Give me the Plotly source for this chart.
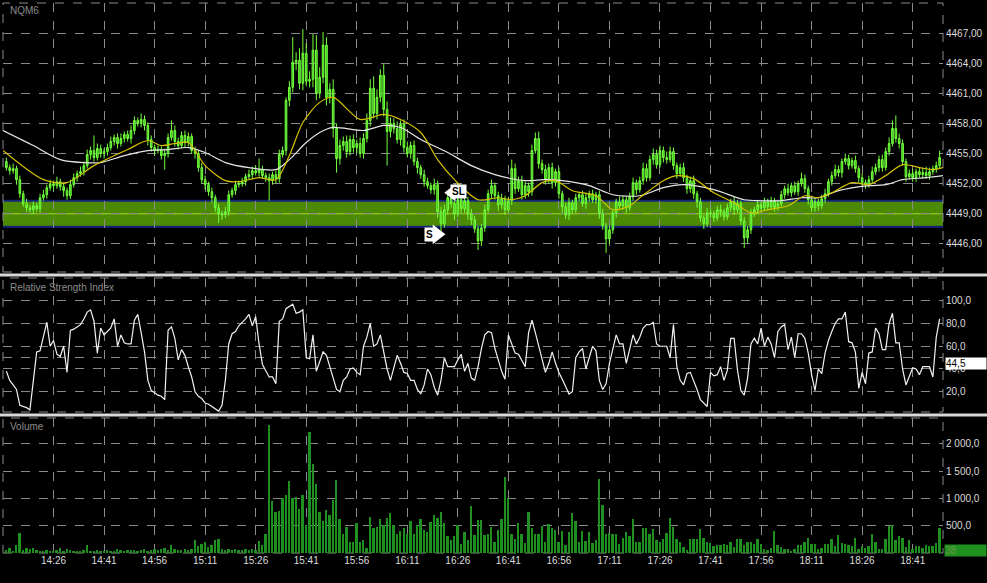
import plotly.graph_objects as go
from plotly.subplots import make_subplots

# ---------------- data ----------------
minutes = list(range(12, 290))  # minutes after 14:00

closes = [
4453.6, 4453.3, 4453.5, 4452.4, 4451.0, 4450.0, 4449.6, 4449.4, 4449.8, 4449.5,
4450.6, 4450.9, 4451.6, 4452.0, 4451.8, 4452.2, 4451.7, 4451.3, 4450.8, 4451.9,
4452.6, 4453.0, 4453.2, 4453.8, 4454.9, 4455.3, 4454.6, 4455.5, 4455.0, 4455.2,
4455.6, 4456.2, 4456.6, 4456.0, 4456.5, 4456.9, 4456.5, 4457.3, 4458.3, 4458.0,
4458.4, 4457.8, 4456.4, 4455.6, 4455.3, 4455.4, 4454.8, 4455.0, 4456.6, 4457.3,
4456.2, 4455.8, 4456.8, 4456.1, 4456.7, 4455.3, 4455.0, 4453.6, 4452.4, 4451.9,
4451.2, 4450.6, 4449.6, 4449.0, 4448.9, 4449.2, 4450.9, 4451.3, 4451.9, 4452.0,
4452.2, 4452.7, 4452.9, 4453.3, 4453.1, 4453.4, 4452.8, 4452.6, 4452.3, 4452.9,
4452.5, 4454.9, 4455.3, 4460.3, 4461.6, 4464.1, 4464.3, 4462.0, 4465.0, 4462.2,
4462.4, 4465.3, 4461.0, 4462.6, 4465.8, 4460.6, 4461.4, 4457.5, 4454.5, 4455.8,
4456.2, 4455.2, 4456.4, 4455.6, 4456.0, 4455.0, 4456.5, 4458.3, 4461.5, 4459.0,
4460.6, 4462.8, 4459.4, 4457.2, 4458.0, 4457.5, 4456.4, 4457.9, 4455.6, 4455.0,
4455.8, 4454.2, 4453.6, 4452.9, 4452.2, 4451.8, 4451.4, 4451.9, 4449.2, 4448.0,
4449.4, 4450.6, 4450.0, 4449.0, 4450.4, 4449.5, 4450.3, 4449.0, 4448.4, 4447.5,
4446.3, 4447.6, 4449.4, 4451.0, 4451.8, 4450.8, 4449.9, 4450.5, 4449.4, 4450.3,
4453.5, 4451.5, 4452.3, 4450.9, 4451.8, 4451.2, 4455.3, 4456.5, 4454.0, 4453.4,
4452.4, 4453.6, 4452.1, 4453.2, 4451.0, 4449.7, 4448.9, 4450.1, 4449.4, 4450.6,
4450.9, 4450.0, 4450.6, 4451.0, 4450.4, 4450.9, 4449.0, 4447.8, 4446.5, 4447.4,
4449.1, 4450.2, 4449.8, 4450.4, 4449.6, 4450.7, 4452.1, 4451.4, 4452.3, 4453.5,
4452.6, 4454.4, 4454.9, 4453.9, 4455.3, 4454.6, 4454.4, 4455.2, 4453.8, 4453.0,
4453.6, 4452.6, 4451.5, 4452.3, 4451.0, 4450.2, 4448.6, 4448.0, 4449.1, 4449.0,
4448.6, 4449.4, 4449.2, 4448.7, 4449.6, 4450.2, 4449.4, 4450.0, 4448.3, 4446.6,
4447.4, 4449.0, 4449.4, 4449.9, 4449.6, 4450.2, 4449.7, 4450.3, 4449.6, 4450.0,
4450.9, 4451.5, 4451.1, 4451.8, 4451.2, 4452.0, 4452.5, 4451.5, 4450.4, 4449.6,
4450.2, 4449.8, 4450.5, 4451.0, 4452.2, 4452.8, 4453.4, 4453.1, 4454.2, 4454.5,
4453.8, 4454.3, 4453.5, 4452.6, 4452.1, 4451.9, 4452.4, 4453.2, 4453.6, 4454.4,
4453.6, 4455.2, 4456.0, 4457.5, 4456.5, 4456.0, 4454.2, 4452.7, 4453.0, 4452.6,
4453.2, 4452.9, 4453.1, 4452.8, 4453.2, 4453.5, 4453.8, 4454.6]

first_open = 4454.2

wick_hi = [
.4,.3,.5,.3,.4,.3,.5,.3,.4,.3, .4,.5,.3,.4,.3,.5,.3,.4,.3,.5,
.4,.3,.5,.4,.5,.4,1.5,.5,.4,.3, .4,.5,.3,.4,.5,.3,.4,.5,.4,.3,
.6,.4,.3,.4,.3,.4,.3,.5,.4,1.0, .5,.4,.4,.5,.4,.3,.4,.3,.5,.4,
.3,.4,.3,.4,.3,.5,.4,.3,.4,.3, .4,.3,.5,.4,.5,1.1,.4,.3,.4,.3,
.4,.5,.4,.3,.6,2.5,.8,1.2,2.4,1.0, .8,1.6,1.5,1.0,1.3,.8,.6,1.0,.5,.6,
.5,.6,.4,.5,.4,.6,.5,.7,.9,1.2, .8,.6,1.1,.8,.6,.5,.7,.4,.5,.6,
.4,.5,.4,.3,.5,.4,.3,.6,.4,.5, .5,.4,.6,.3,.4,.5,.3,.4,.5,.4,
.3,.4,.5,.4,.6,.3,.4,.5,.3,.4, .9,.5,.4,.5,.4,.3,.6,.6,.7,.4,
.5,.4,.5,.3,.4,.3,.4,.5,.3,.4, .3,.4,.5,.3,.4,.3,.4,.5,.3,.4,
.4,.3,.5,.4,.3,.4,.5,.3,.4,.6, .5,.4,.6,.5,.5,.4,.6,.5,.4,.3,
.4,.5,.3,.4,.5,.3,.4,.3,.5,.4, .3,.4,.5,.3,.4,.3,.5,.4,.3,.4,
.4,.5,.3,.4,.3,.4,.3,.4,.3,.4, .4,.3,.5,.3,.4,.3,.6,.4,.3,.4,
.4,.3,.4,.5,.3,.4,.5,.4,.3,.5, .4,.3,.5,.3,.4,.3,.4,.5,.4,.4,
.5,.4,.6,.8,1.3,.5,.4,.3,.4,.5, .3,.4,.5,.6,.4,.3,.4,.7]

wick_lo = [
.3,.4,.3,.5,.4,.3,.4,.3,.4,.3, .4,.3,.4,.3,.5,.3,.4,.6,.4,.3,
.3,.4,.3,.4,.3,.5,.4,.3,.4,.5, .4,.3,.4,.5,.3,.4,.3,.5,.4,.3,
.4,.5,.6,.4,.5,.3,.4,1.4,.4,.3, .5,.4,.3,.5,.4,.3,.5,.4,.4,.5,
.4,.5,.4,.9,.5,.3,.4,.3,.4,.3, .3,.4,.3,.4,.3,.4,.3,.4,2.0,.4,
.5,.4,.3,.5,.6,.5,.8,.6,.7,.5, .6,.8,.7,.5,.6,.8,.6,.9,1.4,.6,
.5,.6,.4,.5,.6,.4,.5,.4,.6,.5, .6,.5,.7,3.4,.6,.5,.4,.6,.5,.4,
.5,.4,.6,.4,.5,.3,.4,.5,.6,.9, .4,.5,.4,.6,.3,.5,.4,.6,.5,.4,
.9,.5,.4,.3,.5,.4,.6,.4,.5,.3, .4,.5,.3,.5,.4,.5,.4,.3,.5,.4,
.5,.4,.6,.4,.5,.6,.4,.5,.4,.3, .4,.3,.5,.4,.3,.4,.5,.4,1.4,.5,
.4,.5,.3,.4,.5,.3,.4,.5,.3,.4, .4,.3,.5,.4,.3,.5,.4,.3,.4,.5,
.3,.4,.5,.4,.5,.6,.4,.5,.3,.4, .4,.3,.5,.4,.3,.4,.5,.3,.4,1.0,
.5,.4,.3,.4,.5,.3,.4,.3,.4,.3, .3,.4,.3,.4,.3,.4,.3,.4,.5,.4,
.4,.5,.3,.4,.3,.4,.3,.4,.5,.3, .4,.3,.4,.5,.3,.4,.3,.4,.3,.4,
.4,.3,.4,.3,.4,.5,.4,.5,.3,.4, .4,.3,.4,.3,.4,.3,.4,.3]

rsi = [
38, 30, 26, 22, 8, 7, 6, 4, 30, 55,
56, 68, 81, 60, 65, 53, 51, 60, 37, 74,
75, 77, 79, 84, 90, 92, 82, 54, 76, 70,
73, 76, 84, 60, 70, 63, 62, 62, 83, 88,
72, 55, 30, 21, 19, 17, 16, 13, 74, 77,
67, 48, 57, 52, 42, 33, 20, 16, 14, 10,
9, 7, 5, 3, 8, 30, 62, 71, 73, 78,
81, 84, 88, 78, 86, 62, 44, 38, 33, 33,
27, 82, 84, 93, 95, 97, 89, 90, 92, 50,
49, 70, 38, 47, 55, 52, 42,
30, 22, 20, 30, 33, 40, 41, 37, 35, 60,
68, 80, 60, 62, 70, 55, 40, 30, 40, 52,
45, 37, 36, 30, 30, 22, 18, 26, 40, 35,
24, 17, 30, 50, 42, 42, 42, 48, 53, 38,
45, 32, 30, 42, 58, 70, 73, 72, 58, 48,
38, 31, 70, 62, 54, 53, 48, 42, 72, 83,
72, 60, 48, 37, 45, 55, 45, 37, 31, 25,
18, 20, 50, 55, 58, 40, 50, 60, 56, 30,
22, 27, 45, 58, 70, 62, 62, 45, 58, 70,
62, 68, 76, 79,
79, 81, 62, 60, 60, 60, 50, 79, 42, 30,
26, 36, 37, 30, 22, 13, 10, 7, 37, 34,
35, 42, 30, 39, 67, 67, 39, 21, 17, 32,
62, 67, 62, 76, 60, 68, 62, 50, 73, 77,
79, 57, 68, 50, 71, 71, 67, 54, 35, 21,
40, 36, 54, 65, 73, 80, 84, 84, 90, 64,
63, 55, 23, 37, 27, 54, 55, 76, 71, 57,
57, 80, 89, 63, 63, 40, 26, 33, 41, 40,
35, 42, 42, 42, 33, 68, 84]

volume = [
50, 90, 40, 150, 375, 60, 90, 70, 100, 50,
40, 30, 50, 35, 45, 60, 100, 40, 70, 50,
40, 45, 30, 50, 155, 45, 40, 50, 35, 40,
55, 40, 45, 65, 50, 40, 55, 60, 50, 45,
60, 70, 45, 55, 65, 50, 70, 100, 60, 150,
80, 60, 55, 70, 60, 75, 230, 120, 170, 200,
110, 150, 230, 250, 70, 60, 70, 60, 75, 50,
60, 70, 55, 65, 60, 225, 140, 345, 2340, 960,
750, 775, 1010, 1055, 1325, 1010, 1025, 805, 1055, 510,
2220, 1640, 1260, 760, 590, 795, 700, 980, 1340, 625,
355, 480, 210, 210, 545, 200, 230, 90, 655, 450,
480, 625, 510, 650, 725, 510, 340, 400, 450, 340,
590, 355, 510, 625, 420, 390, 575, 690, 640, 750,
545, 310, 245, 310, 510, 170, 390, 230, 855, 325,
605, 605, 325, 355, 480, 210, 420, 625, 1400, 1000,
345, 260, 555, 340, 180, 750, 450, 355, 355, 500,
200, 525, 450, 420, 210, 400, 150, 390, 725, 595,
210, 400, 220, 390, 180, 230, 1350, 875, 340, 375,
355, 340, 170, 275, 390, 310, 625, 200, 200, 450,
460, 340, 440, 230, 200, 260, 375, 640, 480, 250,
210, 105, 60, 250, 260, 250, 440, 275, 210, 190,
125, 140, 150, 170, 140, 210, 105, 260, 250, 140,
210, 210, 170, 260, 170, 75, 60, 90, 400, 140,
105, 75, 75, 45, 75, 150, 150, 200, 280, 170,
170, 75, 90, 170, 170, 250, 120, 325, 180, 170,
140, 120, 275, 75, 120, 90, 125, 345, 200, 75,
75, 250, 500, 510, 230, 305, 275, 105, 230, 75,
125, 125, 90, 140, 120, 120, 190, 450]

ma_fast_t = [11, 23, 30, 38, 48, 54, 58, 62, 66, 71, 77, 81, 87, 92, 96, 100, 105, 109,
             117, 124, 129, 135, 140, 145, 152, 158, 162, 166, 171, 175, 180, 187, 192,
             197, 200, 207, 211, 216, 222, 228, 233, 238, 244, 249, 253, 257, 263, 268,
             273, 278, 283, 287, 290]
ma_fast_v = [4455.3, 4452.4, 4452.1, 4453.8, 4455.4, 4456.3, 4455.8, 4456.0, 4456.1, 4453.8,
             4452.3, 4452.2, 4452.6, 4452.4, 4454.8, 4458.1, 4460.1, 4460.6, 4458.4, 4458.9,
             4458.4, 4457.1, 4454.4, 4452.4, 4450.4, 4450.6, 4450.4, 4450.8, 4452.1, 4452.3,
             4451.3, 4450.8, 4449.4, 4449.8, 4450.6, 4452.3, 4452.8, 4452.5, 4451.1, 4450.1,
             4449.1, 4449.4, 4449.8, 4450.8, 4450.6, 4451.1, 4452.1, 4451.9, 4452.8, 4453.9,
             4453.6, 4453.4, 4453.6]

ma_slow_t = [11, 20, 28, 35, 40, 47, 54, 60, 66, 71, 77, 84, 92, 96, 101, 105, 109, 118,
             124, 129, 135, 143, 150, 157, 166, 172, 177, 185, 192, 200, 207, 213, 222,
             231, 236, 242, 248, 253, 259, 268, 273, 278, 285, 290]
ma_slow_v = [4457.3, 4455.8, 4454.4, 4454.1, 4454.1, 4454.8, 4455.3, 4455.4, 4455.6, 4455.1,
             4454.1, 4453.6, 4453.4, 4454.4, 4456.1, 4457.1, 4457.6, 4457.3, 4457.8, 4457.6,
             4456.4, 4455.1, 4453.8, 4452.9, 4452.3, 4452.4, 4452.3, 4451.8, 4450.9, 4450.8,
             4451.6, 4451.9, 4451.4, 4450.4, 4450.3, 4450.3, 4450.6, 4450.6, 4451.3, 4451.8,
             4451.9, 4452.4, 4452.6, 4452.8]

zone_low, zone_mid, zone_high = 4447.7, 4449.0, 4450.3

sig_labels = ["S", "SL"]
sig_minutes = [139.8, 144.2]
sig_prices = [4446.95, 4451.1]

time_ticks = [26, 41, 56, 71, 86, 101, 116, 131, 146, 161, 176, 191, 206, 221, 236, 251, 266, 281]
time_labels = ["14:26", "14:41", "14:56", "15:11", "15:26", "15:41", "15:56", "16:11", "16:26",
               "16:41", "16:56", "17:11", "17:26", "17:41", "17:56", "18:11", "18:26", "18:41"]
price_ticks = [4446, 4449, 4452, 4455, 4458, 4461, 4464, 4467]
price_labels = ["4446,00", "4449,00", "4452,00", "4455,00", "4458,00", "4461,00", "4464,00", "4467,00"]
rsi_ticks = [20, 40, 50, 60, 80, 100]
rsi_labels = ["20,0", "40,0", "", "60,0", "80,0", "100,0"]
vol_ticks = [0, 500, 1000, 1500, 2000]
vol_labels = ["", "500,0", "1 000,0", "1 500,0", "2 000,0"]
rsi_last_label = "44,5"
rsi_last_value = 44.5
vol_last_label = "38"
vol_last_value = 38

# ---------------- derived OHLC ----------------
opens = [first_open] + closes[:-1]
highs = [max(o, c) + w for o, c, w in zip(opens, closes, wick_hi)]
lows = [min(o, c) - w for o, c, w in zip(opens, closes, wick_lo)]

# ---------------- figure ----------------
FONT = "Liberation Sans, Arial, sans-serif"
GRID = "#8a8a8a"
TXT = "#dcdcdc"

fig = make_subplots(rows=3, cols=1, shared_xaxes=True, vertical_spacing=0.0)

fig.add_trace(go.Candlestick(
    x=minutes, open=opens, high=highs, low=lows, close=closes,
    increasing=dict(line=dict(color="#74ff3c", width=1), fillcolor="#3fbf25"),
    decreasing=dict(line=dict(color="#74ff3c", width=1), fillcolor="#3fbf25"),
    whiskerwidth=0, showlegend=False, hoverinfo="skip"), row=1, col=1)

fig.add_trace(go.Scatter(x=ma_slow_t, y=ma_slow_v, mode="lines",
                         line=dict(color="#e6e6e6", width=1.2, shape="spline", smoothing=0.8),
                         showlegend=False, hoverinfo="skip"), row=1, col=1)
fig.add_trace(go.Scatter(x=ma_fast_t, y=ma_fast_v, mode="lines",
                         line=dict(color="#d6c200", width=1.2, shape="spline", smoothing=0.8),
                         showlegend=False, hoverinfo="skip"), row=1, col=1)

# signal arrows
fig.add_trace(go.Scatter(x=[sig_minutes[0]], y=[sig_prices[0]], mode="markers",
                         marker=dict(symbol="triangle-right", size=17, color="white"),
                         showlegend=False, hoverinfo="skip"), row=1, col=1)
fig.add_trace(go.Scatter(x=[sig_minutes[1]], y=[sig_prices[1]], mode="markers",
                         marker=dict(symbol="triangle-left", size=15, color="white"),
                         showlegend=False, hoverinfo="skip"), row=1, col=1)

fig.add_trace(go.Scatter(x=minutes, y=rsi, mode="lines",
                         line=dict(color="#f2f2f2", width=1.2),
                         showlegend=False, hoverinfo="skip"), row=2, col=1)

fig.add_trace(go.Bar(x=minutes, y=volume, width=0.55,
                     marker=dict(color="#1f8f1f", line=dict(width=0)),
                     showlegend=False, hoverinfo="skip"), row=3, col=1)

fig.update_layout(
    width=987, height=583,
    margin=dict(l=3, r=44, t=3, b=30, autoexpand=False),
    paper_bgcolor="black", plot_bgcolor="black",
    font=dict(family=FONT, size=10, color=TXT),
    bargap=0,
    hovermode=False,
    yaxis=dict(domain=[0.5109, 1.0]),
    yaxis2=dict(domain=[0.2564, 0.5]),
    yaxis3=dict(domain=[0.0, 0.2455]),
)

for r in (1, 2, 3):
    fig.update_xaxes(row=r, col=1, range=[11, 290], tickvals=time_ticks, ticktext=time_labels,
                     showgrid=True, gridcolor=GRID, griddash="dash", gridwidth=1,
                     zeroline=False, showline=False, ticks="", automargin=False,
                     showticklabels=(r == 3), rangeslider=dict(visible=False),
                     tickfont=dict(size=10, color=TXT, family=FONT))

fig.update_yaxes(row=1, col=1, range=[4443.2, 4470.0], side="right", tickvals=price_ticks,
                 ticktext=price_labels)
fig.update_yaxes(row=2, col=1, range=[2.2, 120], side="right", tickvals=rsi_ticks,
                 ticktext=rsi_labels)
fig.update_yaxes(row=3, col=1, range=[0, 2475], side="right", tickvals=vol_ticks,
                 ticktext=vol_labels)
fig.update_yaxes(showgrid=True, gridcolor=GRID, griddash="dash", gridwidth=1, zeroline=False,
                 ticks="", showline=False, automargin=False, ticklabelstandoff=2,
                 tickfont=dict(size=10, color=TXT, family=FONT))

shapes = []
# support zone band
shapes.append(dict(type="rect", xref="x domain", yref="y", x0=0, x1=1, y0=zone_low, y1=zone_high,
                   fillcolor="#4c8a04", line=dict(width=0), layer="below"))
for yv in (zone_low, zone_high):
    shapes.append(dict(type="line", xref="x domain", yref="y", x0=0, x1=1, y0=yv, y1=yv,
                       line=dict(color="#14247a", width=2), layer="below"))
shapes.append(dict(type="line", xref="x domain", yref="y", x0=0, x1=1, y0=zone_mid, y1=zone_mid,
                   line=dict(color="#a8d42a", width=1), layer="below"))

# dashed panel frames
for xr, yr in (("x domain", "y domain"), ("x2 domain", "y2 domain"), ("x3 domain", "y3 domain")):
    shapes.append(dict(type="rect", xref=xr, yref=yr, x0=0, x1=1, y0=0, y1=1,
                       line=dict(color=GRID, width=1, dash="dash"), fillcolor="rgba(0,0,0,0)",
                       layer="below"))

# separators between panels
for yp in (0.5055, 0.2509):
    shapes.append(dict(type="line", xref="paper", yref="paper", x0=-0.01, x1=1.05, y0=yp, y1=yp,
                       line=dict(color="#d8d8d8", width=3)))
fig.update_layout(shapes=shapes)

ann = []
ann.append(dict(text="NQM6", xref="paper", yref="paper", x=(8 - 3) / 940, y=(553 - 11) / 550,
                xanchor="left", yanchor="middle", showarrow=False,
                font=dict(size=10, color="#8c8c8c", family=FONT)))
ann.append(dict(text="Relative Strength Index", xref="paper", yref="paper", x=(8 - 3) / 940,
                y=(553 - 287) / 550, xanchor="left", yanchor="middle", showarrow=False,
                font=dict(size=10, color="#8c8c8c", family=FONT)))
ann.append(dict(text="Volume", xref="paper", yref="paper", x=(8 - 3) / 940, y=(553 - 426) / 550,
                xanchor="left", yanchor="middle", showarrow=False,
                font=dict(size=10, color="#8c8c8c", family=FONT)))
# signal labels
ann.append(dict(text="<b>" + sig_labels[0] + "</b>", x=sig_minutes[0] - 2.1, y=sig_prices[0],
                xref="x", yref="y", showarrow=False, bgcolor="white", borderpad=1,
                font=dict(size=10, color="black", family=FONT)))
ann.append(dict(text="<b>" + sig_labels[1] + "</b>", x=sig_minutes[1] + 2.1, y=sig_prices[1] + 0.1,
                xref="x", yref="y", showarrow=False, bgcolor="white", borderpad=1,
                font=dict(size=10, color="black", family=FONT)))
# last value boxes
ann.append(dict(text=rsi_last_label, xref="paper", yref="y2", x=1.002, y=rsi_last_value,
                xanchor="left", yanchor="middle", showarrow=False, bgcolor="white",
                width=40, align="left", borderpad=0, height=11,
                font=dict(size=10, color="black", family=FONT)))
ann.append(dict(text=vol_last_label, xref="paper", yref="y3", x=1.001, y=vol_last_value,
                xanchor="left", yanchor="middle", showarrow=False, bgcolor="#1f8f1f",
                width=41, align="left", borderpad=0, height=11,
                font=dict(size=10, color="#6a9a4a", family=FONT)))
fig.update_layout(annotations=ann)

fig.write_html("out.html", config={"displayModeBar": False},
               post_script="document.body.style.margin='0';document.body.style.padding='0';"
                           "document.body.style.background='black';"
                           "document.body.style.overflow='hidden';")
